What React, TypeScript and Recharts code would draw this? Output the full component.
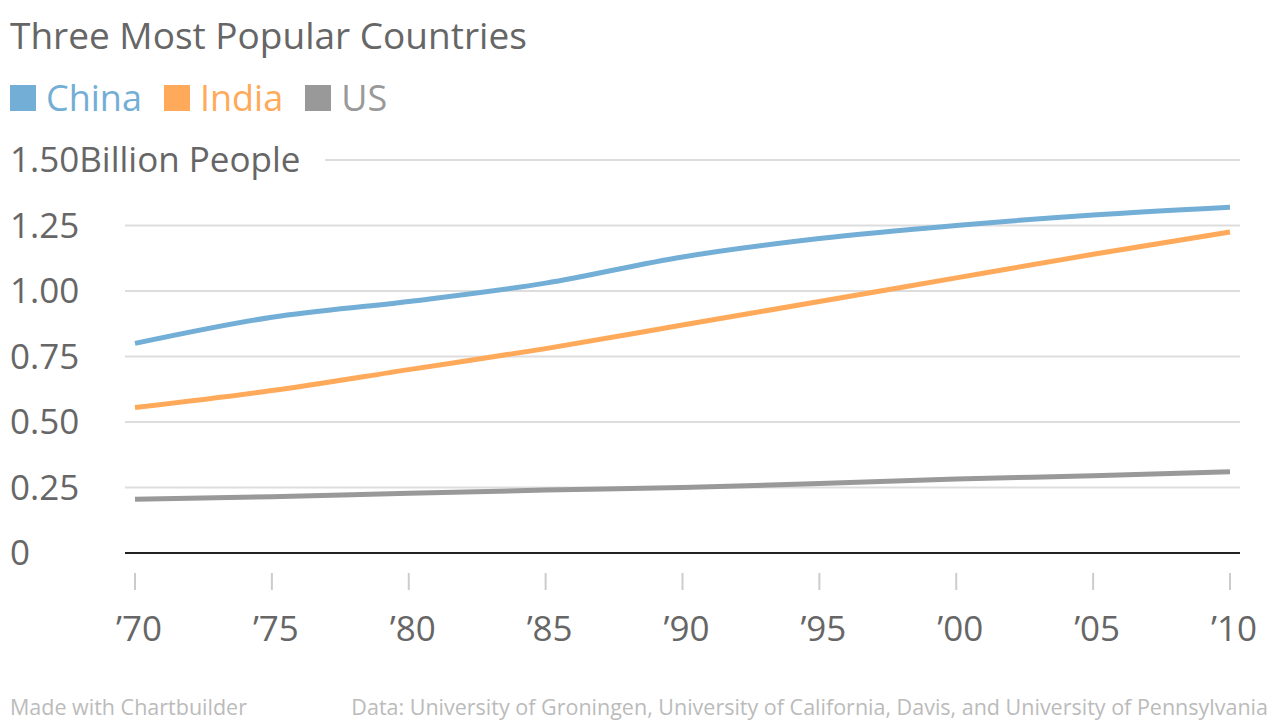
import { LineChart, Line, XAxis, YAxis, CartesianGrid } from "recharts";

const years = [1970, 1975, 1980, 1985, 1990, 1995, 2000, 2005, 2010];
const china = [0.8, 0.9, 0.96, 1.03, 1.13, 1.2, 1.25, 1.29, 1.32];
const india = [0.555, 0.62, 0.7, 0.78, 0.87, 0.96, 1.05, 1.14, 1.225];
const us = [0.205, 0.215, 0.228, 0.24, 0.25, 0.265, 0.282, 0.295, 0.31];
const yTicks = [0, 0.25, 0.5, 0.75, 1.0, 1.25, 1.5];
const xLabels = ["’70", "’75", "’80", "’85", "’90", "’95", "’00", "’05", "’10"];

const data = years.map((year, i) => ({ year, china: china[i], india: india[i], us: us[i] }));

const FONT = "'Open Sans', sans-serif";
const TEXT = "#666";

const YTick = (props: any) => {
  const v = props.payload.value;
  const label = v === 0 ? "0" : v.toFixed(2) + (v === 1.5 ? "Billion People" : "");
  return (
    <g>
      {v === 1.5 && <rect x={0} y={props.y - 24} width={325} height={48} fill="#fff" />}
      <text x={10} y={props.y} dy={12} fontSize={35} fill={TEXT} fontFamily={FONT} textAnchor="start">
        {label}
      </text>
    </g>
  );
};

const XTick = (props: any) => {
  const i = years.indexOf(props.payload.value);
  return (
    <g>
      <line x1={props.x} x2={props.x} y1={553 + 20} y2={553 + 37} stroke="#ccc" strokeWidth={2} />
      <text x={props.x + 4} y={553 + 88} textAnchor="middle" fontSize={35} fill={TEXT} fontFamily={FONT}>
        {xLabels[i]}
      </text>
    </g>
  );
};

const legend = [
  { name: "China", color: "#73aed6" },
  { name: "India", color: "#ffaa5a" },
  { name: "US", color: "#999999" },
];

export default function App() {
  return (
    <div style={{ position: "absolute", left: 0, top: 0, width: 1280, height: 720, background: "#fff", fontFamily: FONT }}>
      <div style={{ position: "absolute", left: 10, top: 9, fontSize: 37, color: TEXT }}>Three Most Popular Countries</div>
      <div style={{ position: "absolute", left: 10, top: 73, display: "flex", fontSize: 36 }}>
        {legend.map((l) => (
          <div key={l.name} style={{ display: "flex", alignItems: "center", marginRight: 22, color: l.color }}>
            <span style={{ width: 26, height: 26, background: l.color, display: "inline-block", marginRight: 10 }} />
            {l.name}
          </div>
        ))}
      </div>
      <div style={{ position: "absolute", left: 0, top: 0 }}>
        <LineChart width={1280} height={720} data={data} margin={{ top: 160, right: 40, bottom: 166, left: 124 }}>
          <CartesianGrid vertical={false} stroke="#ddd" strokeWidth={2} />
          <XAxis
            dataKey="year"
            type="number"
            domain={[1970, 2010]}
            ticks={years}
            padding={{ left: 10, right: 10 }}
            height={1}
            tickLine={false}
            tickSize={0}
            axisLine={{ stroke: "#222", strokeWidth: 2 }}
            tick={<XTick />}
            interval={0}
          />
          <YAxis domain={[0, 1.5]} ticks={yTicks} width={1} axisLine={false} tickLine={false} tick={<YTick />} interval={0} />
          <Line type="monotone" dataKey="china" stroke="#73aed6" strokeWidth={5} dot={false} isAnimationActive={false} />
          <Line type="monotone" dataKey="india" stroke="#ffaa5a" strokeWidth={5} dot={false} isAnimationActive={false} />
          <Line type="monotone" dataKey="us" stroke="#999999" strokeWidth={5} dot={false} isAnimationActive={false} />
        </LineChart>
      </div>
      <div style={{ position: "absolute", left: 10, top: 692, fontSize: 21.5, color: "#bbb" }}>Made with Chartbuilder</div>
      <div style={{ position: "absolute", right: 12, top: 692, fontSize: 21.5, color: "#bbb" }}>
        Data: University of Groningen, University of California, Davis, and University of Pennsylvania
      </div>
    </div>
  );
}
